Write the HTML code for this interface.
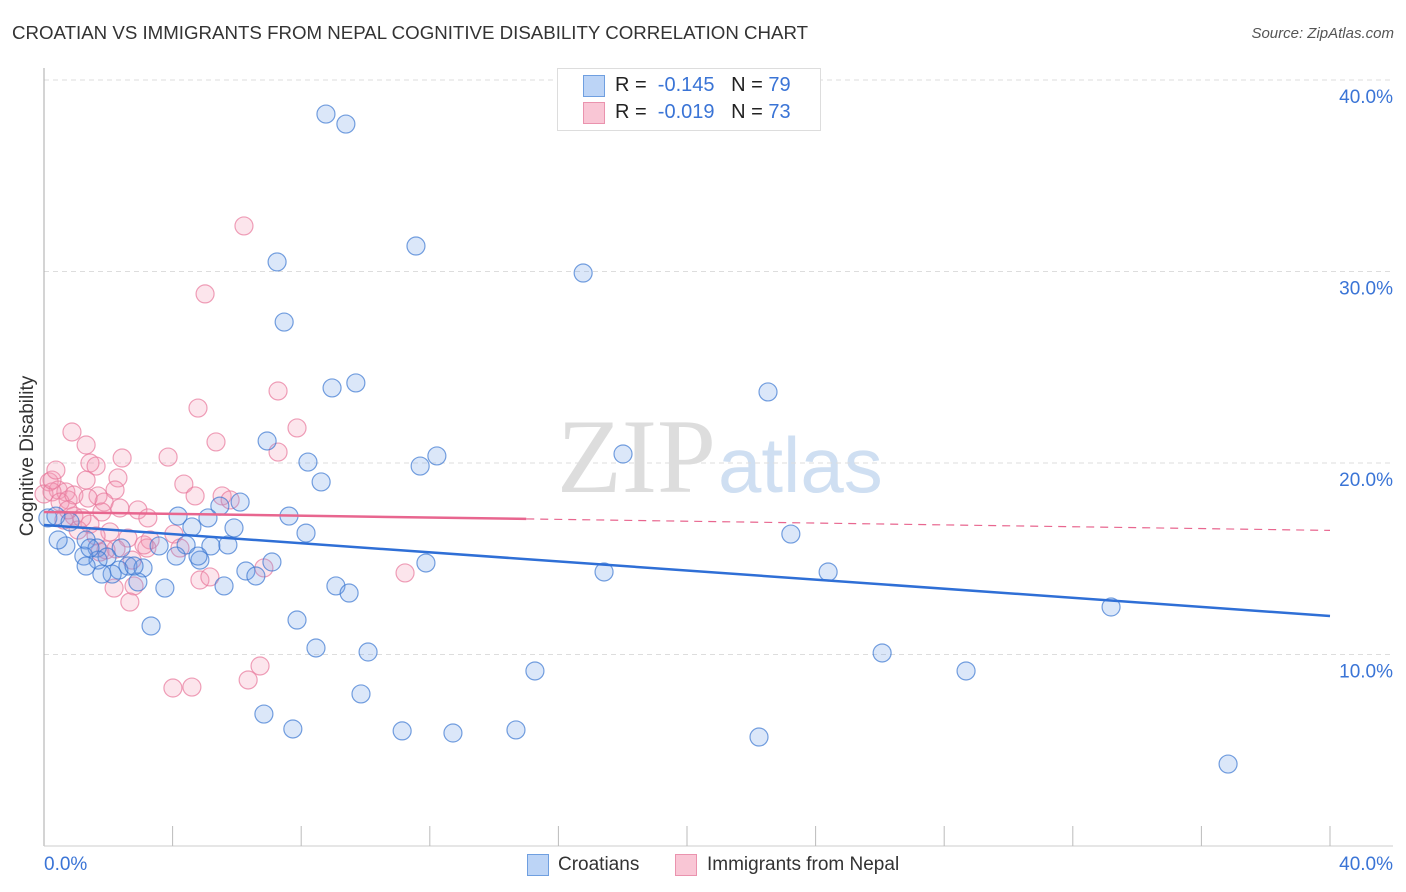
<!DOCTYPE html>
<html><head><meta charset="utf-8"><style>
body{margin:0;background:#fff;font-family:"Liberation Sans",sans-serif;}
#wrap{position:relative;width:1406px;height:892px;overflow:hidden;}
.t{position:absolute;white-space:nowrap;}
</style></head><body>
<div id="wrap">
<div class="t" style="left:12px;top:22px;font-size:18.7px;color:#333;">CROATIAN VS IMMIGRANTS FROM NEPAL COGNITIVE DISABILITY CORRELATION CHART</div>
<div class="t" style="right:12px;top:25px;font-size:15px;color:#555;font-style:italic;">Source: ZipAtlas.com</div>
<svg id="svg" width="1406" height="892" style="position:absolute;left:0;top:0">
<text x="716" y="492" font-family="Liberation Serif,serif" font-size="106" fill="#ddd" text-anchor="end">ZIP</text>
<text x="718" y="492" font-family="Liberation Sans,sans-serif" font-size="78" fill="#cfdff2">atlas</text>
</svg>
<div class="t" style="left:28px;top:456px;font-size:19px;color:#333;transform:translate(-50%,-50%) rotate(-90deg);">Cognitive Disability</div>
<div style="position:absolute;left:557px;top:68px;width:262px;height:61px;border:1px solid #ddd;background:#fff;"></div>
<div style="position:absolute;left:583px;top:75px;width:20px;height:20px;background:#bcd4f6;border:1px solid #6f9fe0;"></div>
<div style="position:absolute;left:583px;top:102px;width:20px;height:20px;background:#f9c6d5;border:1px solid #ea93ae;"></div>
<div class="t" style="left:615px;top:74px;font-size:20px;color:#222;">R = <span style="color:#3a74d6">&nbsp;-0.145</span>&nbsp;&nbsp;&nbsp;N = <span style="color:#3a74d6">79</span></div>
<div class="t" style="left:615px;top:101px;font-size:20px;color:#222;">R = <span style="color:#3a74d6">&nbsp;-0.019</span>&nbsp;&nbsp;&nbsp;N = <span style="color:#3a74d6">73</span></div>
<div style="position:absolute;left:527px;top:854px;width:20px;height:20px;background:#bcd4f6;border:1px solid #6f9fe0;"></div>
<div class="t" style="left:558px;top:854px;font-size:19px;color:#333;">Croatians</div>
<div style="position:absolute;left:675px;top:854px;width:20px;height:20px;background:#f9c6d5;border:1px solid #ea93ae;"></div>
<div class="t" style="left:707px;top:854px;font-size:19px;color:#333;">Immigrants from Nepal</div>
</div>
<script>
const xTickLabels=["0.0%","40.0%"];
const yTicks=[10,20,30,40];
const blueX=[8.77,9.39,11.57,7.25,16.77,7.47,9.70,8.96,22.52,6.94,12.22,18.01,8.21,11.70,8.62,6.10,5.47,4.17,5.10,7.62,5.91,8.15,23.23,4.60,0.12,0.37,1.31,0.68,0.44,1.65,2.40,3.58,4.42,5.19,5.72,4.11,4.85,4.79,1.24,1.96,1.68,2.61,3.08,1.31,2.33,7.09,11.88,6.28,2.12,17.42,24.39,6.59,2.92,3.76,5.60,9.08,9.49,1.80,3.33,7.87,8.46,10.08,33.19,26.07,15.27,28.68,9.86,6.84,7.74,11.14,12.72,14.68,22.24,36.83,0.81,2.80,1.43];
const blueY=[38.22,37.70,31.33,30.50,29.92,27.36,24.18,23.92,23.71,21.15,20.37,20.47,20.05,19.84,19.01,17.96,17.75,17.23,17.13,17.23,16.61,16.34,16.29,16.66,17.13,17.23,15.98,15.67,15.98,15.56,15.56,15.67,15.72,15.67,15.72,15.14,14.93,15.14,15.14,15.09,14.93,14.62,14.52,14.62,14.41,14.83,14.78,14.36,14.20,14.31,14.31,14.10,13.79,13.47,13.58,13.58,13.21,14.20,11.49,11.80,10.34,10.13,12.48,10.08,9.14,9.14,7.94,6.89,6.11,6.01,5.90,6.06,5.69,4.28,16.92,14.62,15.56];
const pinkX=[6.22,5.01,7.28,4.79,7.87,0.87,5.35,1.31,3.86,2.43,7.28,1.43,1.62,2.30,1.31,4.35,0.16,0.44,0.68,0.00,0.25,0.75,0.50,0.93,1.68,2.21,1.87,4.70,5.54,5.79,2.36,1.80,0.93,2.92,3.23,4.04,0.62,1.43,2.05,3.30,2.61,1.62,1.06,2.24,1.74,3.20,2.74,4.23,1.18,1.93,0.25,2.80,2.18,2.67,4.85,5.16,6.84,11.23,6.72,6.35,4.01,4.60,0.75,1.37,3.11,0.37];
const pinkY=[32.38,28.83,23.76,22.87,21.83,21.62,21.10,20.94,20.31,20.26,20.57,20.00,19.84,19.22,19.11,18.90,19.01,18.59,18.49,18.38,18.49,18.07,17.96,18.33,18.28,18.59,17.96,18.28,18.28,18.07,17.65,17.44,17.23,17.55,17.13,16.29,17.02,16.81,16.40,15.98,16.08,16.19,16.50,15.51,15.35,15.56,14.93,15.56,17.13,15.46,19.11,13.58,13.47,12.74,13.89,14.05,14.52,14.26,9.40,8.67,8.25,8.30,17.55,18.17,15.72,19.63];
const blueTrend=[16.76,12.01];
const pinkTrend=[17.44,16.48];
const pinkSolidEnd=15;

const X0=44,X1=1330,Y0=846,Y40=80;
const sx=v=>X0+(v/40)*(X1-X0);
const sy=v=>Y0-(v/40)*(Y0-Y40);
const svg=document.getElementById('svg');
const NS='http://www.w3.org/2000/svg';
function mk(tag,attrs){const e=document.createElementNS(NS,tag);for(const k in attrs)e.setAttribute(k,attrs[k]);svg.appendChild(e);return e;}

yTicks.forEach(t=>{
 const g=mk('line',{x1:X0,x2:1393,y1:sy(t),y2:sy(t),stroke:'#ddd','stroke-dasharray':'5,4'});
 
 
 const tx=mk('text',{x:1393,y:sy(t)+23,'text-anchor':'end','font-size':19,fill:'#3a74d6','font-family':'Liberation Sans,sans-serif'});
 tx.textContent=t.toFixed(1)+'%';
 
 
});
const ax=mk('line',{x1:X0,x2:X0,y1:68,y2:Y0,stroke:'#aaa'});


const bx=mk('line',{x1:X0,x2:1393,y1:Y0,y2:Y0,stroke:'#ccc'});


for(let i=1;i<=10;i++){
 const tk=mk('line',{x1:sx(i*4),x2:sx(i*4),y1:826,y2:Y0,stroke:'#bbb'});
 
 
}
[[0,'start',44],[40,'end',1393]].forEach((d,i)=>{
 const tx=mk('text',{x:d[2],y:870,'text-anchor':d[1],'font-size':19,fill:'#3a74d6','font-family':'Liberation Sans,sans-serif'});
 tx.textContent=xTickLabels[i];
 
 
});
function dots(xs,ys,fill,stroke,name){
 xs.forEach((x,i)=>{
  const c=mk('circle',{cx:sx(x),cy:sy(ys[i]),r:9,fill:fill,stroke:stroke,'stroke-width':1.2});
  
  
 });
}
dots(pinkX,pinkY,'rgba(242,150,180,0.25)','rgba(232,120,155,0.7)','nepal-point');
dots(blueX,blueY,'rgba(110,160,230,0.25)','rgba(60,120,210,0.7)','croatian-point');
const bl=mk('line',{x1:sx(0),y1:sy(blueTrend[0]),x2:sx(40),y2:sy(blueTrend[1]),stroke:'#2f6fd6','stroke-width':2.5});


const pAt=v=>pinkTrend[0]+(pinkTrend[1]-pinkTrend[0])*v/40;
const pl=mk('line',{x1:sx(0),y1:sy(pAt(0)),x2:sx(pinkSolidEnd),y2:sy(pAt(pinkSolidEnd)),stroke:'#e8668f','stroke-width':2.5});


const pd=mk('line',{x1:sx(pinkSolidEnd),y1:sy(pAt(pinkSolidEnd)),x2:sx(40),y2:sy(pAt(40)),stroke:'#e8668f','stroke-width':1.2,'stroke-dasharray':'8,6'});


</script>
</body></html>
